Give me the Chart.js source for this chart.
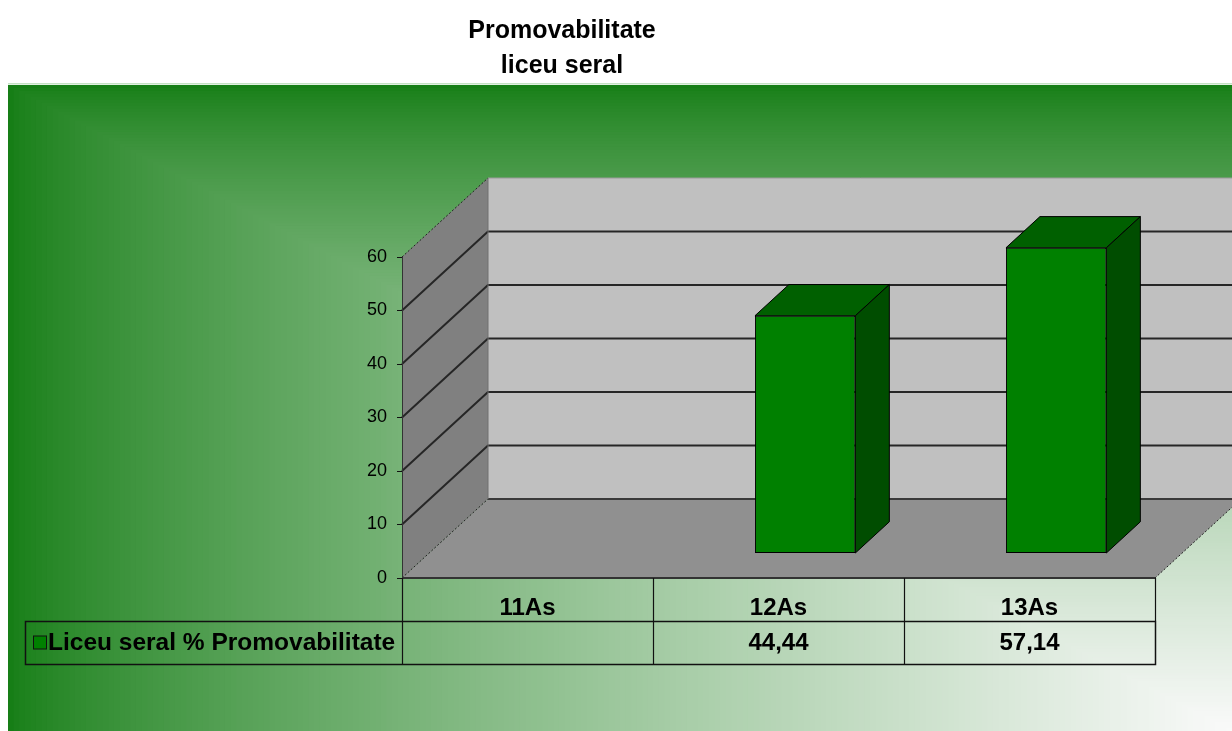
<!DOCTYPE html>
<html>
<head>
<meta charset="utf-8">
<title>Promovabilitate liceu seral</title>
<script src="https://cdn.jsdelivr.net/npm/chart.js@4.4.0/dist/chart.umd.min.js"></script>
<style>
  html, body { margin: 0; padding: 0; background: #fff; }
  canvas { display: block; }
</style>
</head>
<body>
<canvas id="chart" width="1232" height="731"></canvas>
<script>
// data
const titleLines = ['Promovabilitate', 'liceu seral'];
const categories = ['11As', '12As', '13As'];
const seriesLabel = 'Liceu seral % Promovabilitate';
const promovabilitate = [null, 44.44, 57.14];
const yMin = 0, yMax = 60, yStep = 10;

// look
const FONT = '"Liberation Sans", Arial, sans-serif';
const DEPTH = { dx: 86, dy: 79 };            // depth of the 3d box
const BAR_FRONT = 0.31, BAR_DEPTH = 0.395;  // where the bars sit inside that depth
const ROW_H = 43;
const LEGEND_LEFT = 25;

function mix(a, b, k) {
    return 'rgb(' + a.map((v, i) => Math.round(v + (b[i] - v) * k)).join(',') + ')';
}

function paintBackground(ctx, w, h) {
    // excel style "from corner" gradient, white in the bottom right corner
    const x0 = 8, y0 = 85, W = w - x0, H = h - y0;
    const green = [22, 126, 22], white = [250, 250, 250];
    const steps = 220;
    for (let i = steps; i >= 1; i--) {
        const t = i / steps;
        ctx.fillStyle = mix(green, white, Math.pow(1 - t, 0.75));
        ctx.fillRect(w - t * W, h - t * H, t * W + 1, t * H + 1);
    }
    ctx.fillStyle = '#c4e2c4';
    ctx.fillRect(x0, y0 - 2, W, 1.5);
}

function line(ctx, pts, color, width, dash) {
    ctx.save();
    ctx.beginPath();
    ctx.moveTo(pts[0][0], pts[0][1]);
    for (let i = 1; i < pts.length; i++) ctx.lineTo(pts[i][0], pts[i][1]);
    ctx.strokeStyle = color;
    ctx.lineWidth = width;
    ctx.setLineDash(dash || []);
    ctx.stroke();
    ctx.restore();
}

function poly(ctx, pts, fill) {
    ctx.beginPath();
    ctx.moveTo(pts[0][0], pts[0][1]);
    for (let i = 1; i < pts.length; i++) ctx.lineTo(pts[i][0], pts[i][1]);
    ctx.closePath();
    ctx.fillStyle = fill;
    ctx.fill();
}

const box3d = {
    id: 'box3d',
    beforeDraw(chart) {
        const { ctx, chartArea: a, scales: { y } } = chart;
        const { dx, dy } = DEPTH;
        const L = a.left, R = a.right, T = a.top, B = a.bottom;

        paintBackground(ctx, chart.width, chart.height);

        // title
        ctx.save();
        ctx.fillStyle = '#000';
        ctx.font = 'bold 25px ' + FONT;
        ctx.textAlign = 'center';
        ctx.textBaseline = 'alphabetic';
        ctx.fillText(titleLines[0], 562, 38);
        ctx.fillText(titleLines[1], 562, 73);
        ctx.restore();

        // walls and floor
        poly(ctx, [[L, B], [L, T], [L + dx, T - dy], [L + dx, B - dy]], '#808080');
        poly(ctx, [[L + dx, T - dy], [R + dx, T - dy], [R + dx, B - dy], [L + dx, B - dy]], '#c0c0c0');
        poly(ctx, [[L, B], [L + dx, B - dy], [R + dx, B - dy], [R, B]], '#909090');

        for (let v = yMin; v <= yMax; v += yStep) {
            const py = y.getPixelForValue(v);
            if (v === yMin) {
                line(ctx, [[L, py], [L + dx, py - dy]], '#222', 1, [2, 2]);
                line(ctx, [[L + dx, py - dy], [R + dx, py - dy]], '#3a3a3a', 2);
            } else if (v === yMax) {
                line(ctx, [[L, py], [L + dx, py - dy]], '#222', 1, [2, 2]);
                line(ctx, [[L + dx, py - dy], [R + dx, py - dy]], '#9a9a9a', 1);
            } else {
                line(ctx, [[L, py], [L + dx, py - dy], [R + dx, py - dy]], '#262626', 2);
            }
        }
        line(ctx, [[L + dx, T - dy], [L + dx, B - dy]], '#707070', 1);
        line(ctx, [[R, B], [R + dx, B - dy]], '#222', 1, [2, 2]);
        line(ctx, [[L, B], [R, B]], '#333', 2);
    },
    beforeDatasetsDraw(chart) {
        chart.ctx.save();
        chart.ctx.translate(DEPTH.dx * BAR_FRONT, -DEPTH.dy * BAR_FRONT);
    },
    afterDatasetsDraw(chart) {
        const ctx = chart.ctx;
        const ddx = DEPTH.dx * BAR_DEPTH, ddy = DEPTH.dy * BAR_DEPTH;
        chart.getDatasetMeta(0).data.forEach((bar, i) => {
            if (promovabilitate[i] == null) return;
            const { x, y, base, width } = bar.getProps(['x', 'y', 'base', 'width'], true);
            const l = x - width / 2, r = x + width / 2;
            ctx.lineWidth = 1;
            ctx.strokeStyle = '#000';
            poly(ctx, [[l, y], [l + ddx, y - ddy], [r + ddx, y - ddy], [r, y]], '#006000');
            ctx.stroke();
            poly(ctx, [[r, y], [r + ddx, y - ddy], [r + ddx, base - ddy], [r, base]], '#004d00');
            ctx.stroke();
        });
        ctx.restore();
    },
    afterDraw(chart) {
        const { ctx, chartArea: a, scales: { x } } = chart;
        const R = a.right, B = a.bottom;
        const step = x.getPixelForValue(1) - x.getPixelForValue(0);
        const edges = categories.map((c, i) => x.getPixelForValue(i) - step / 2).concat(R);

        ctx.save();
        // category row
        edges.forEach(ex => line(ctx, [[Math.round(ex) + 0.5, B], [Math.round(ex) + 0.5, B + ROW_H]], '#111', 1.2));
        // value row
        const r2 = B + ROW_H;
        ctx.strokeStyle = '#111';
        ctx.lineWidth = 1.5;
        ctx.strokeRect(LEGEND_LEFT + 0.5, r2 + 0.5, R - LEGEND_LEFT, ROW_H);
        edges.slice(0, -1).forEach(ex => line(ctx, [[Math.round(ex) + 0.5, r2], [Math.round(ex) + 0.5, r2 + ROW_H]], '#111', 1.2));

        // legend key + label
        const my = r2 + ROW_H / 2;
        ctx.fillStyle = '#008000';
        ctx.fillRect(LEGEND_LEFT + 8.5, my - 6.5, 13, 13);
        ctx.lineWidth = 1;
        ctx.strokeRect(LEGEND_LEFT + 8.5, my - 6.5, 13, 13);
        ctx.fillStyle = '#000';
        ctx.font = 'bold 24.5px ' + FONT;
        ctx.textBaseline = 'middle';
        ctx.textAlign = 'left';
        ctx.fillText(seriesLabel, LEGEND_LEFT + 23, my + 1);

        // values
        ctx.font = 'bold 24px ' + FONT;
        ctx.textAlign = 'center';
        promovabilitate.forEach((v, i) => {
            if (v == null) return;
            ctx.fillText(v.toFixed(2).replace('.', ','), x.getPixelForValue(i), my + 1);
        });
        ctx.restore();
    }
};

new Chart(document.getElementById('chart'), {
    type: 'bar',
    data: {
        labels: categories,
        datasets: [{
            label: seriesLabel,
            data: promovabilitate,
            backgroundColor: '#008000',
            borderColor: '#000',
            borderWidth: 1,
            borderSkipped: false,
            categoryPercentage: 1,
            barPercentage: 0.4
        }]
    },
    options: {
        responsive: false,
        animation: false,
        layout: { padding: { left: 342, right: 77, top: 257, bottom: 110 } },
        plugins: {
            legend: { display: false },
            tooltip: { enabled: false },
            title: { display: false }
        },
        scales: {
            x: {
                grid: { display: false },
                border: { display: false },
                ticks: {
                    color: '#000',
                    padding: 8,
                    font: { family: FONT, size: 24, weight: 'bold' }
                },
                afterFit: s => { s.height = ROW_H; }
            },
            y: {
                min: yMin,
                max: yMax,
                grid: { display: true, drawOnChartArea: false, drawTicks: true, tickLength: 5, color: '#111' },
                border: { display: true, color: '#333', width: 1 },
                ticks: {
                    stepSize: yStep,
                    color: '#000',
                    padding: 10,
                    font: { family: FONT, size: 18 }
                },
                afterFit: s => { s.width = 60; }
            }
        }
    },
    plugins: [box3d]
});
</script>
</body>
</html>
